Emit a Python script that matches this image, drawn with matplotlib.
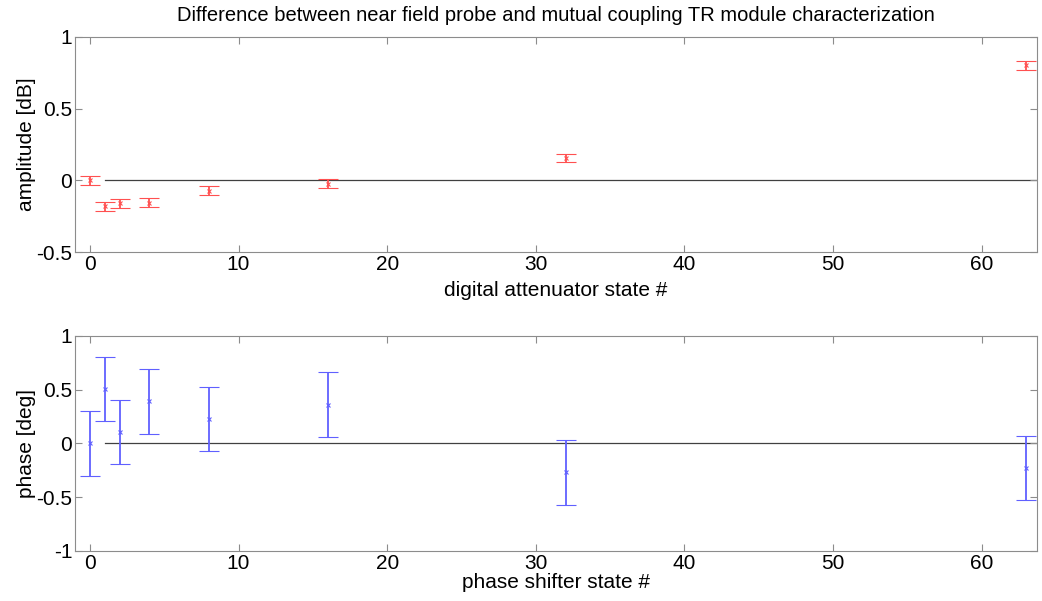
"""Near field probe vs mutual coupling TR module characterization difference."""

import matplotlib
matplotlib.use("Agg")
import matplotlib.pyplot as plt
from matplotlib.ticker import FormatStrFormatter

# attenuator states and amplitude difference [dB]
att_states = [0, 1, 2, 4, 8, 16, 32, 63]
amp_diff = [0.0, -0.18, -0.16, -0.155, -0.07, -0.022, 0.155, 0.80]
amp_err = [0.03, 0.03, 0.03, 0.03, 0.03, 0.03, 0.03, 0.03]

# phase shifter states and phase difference [deg]
ph_states = [0, 1, 2, 4, 8, 16, 32, 63]
ph_diff = [0.0, 0.505, 0.105, 0.39, 0.228, 0.36, -0.27, -0.23]
ph_err = [0.3, 0.3, 0.3, 0.3, 0.3, 0.3, 0.3, 0.3]

plt.rcParams["font.family"] = ["Liberation Sans", "DejaVu Sans"]
plt.rcParams["font.size"] = 15

fig = plt.figure(figsize=(10.42, 6.01), dpi=100)
ax1 = fig.add_axes([0.072, 0.5802, 0.9229, 0.3587])
ax2 = fig.add_axes([0.072, 0.0832, 0.9229, 0.3582])


def style(ax):
    for s in ax.spines.values():
        s.set_color("#8c8c8c")
        s.set_linewidth(0.8)
    ax.tick_params(direction="in", top=True, right=True, length=5,
                   color="#8c8c8c", labelsize=15, pad=2)
    ax.yaxis.set_major_formatter(FormatStrFormatter("%g"))
    ax.set_xlim(-1, 63.7)
    ax.set_xticks([0, 10, 20, 30, 40, 50, 60])
    # zero reference line
    ax.plot([1, 64], [0, 0], color="#404040", lw=0.9, zorder=1)


style(ax1)
ax1.errorbar(att_states, amp_diff, yerr=amp_err, fmt="x", color="#ff5050",
             ms=3, mew=0.8, elinewidth=1.3, capsize=7, capthick=1.3, zorder=3)
ax1.set_ylim(-0.5, 1)
ax1.set_yticks([-0.5, 0, 0.5, 1])
ax1.set_xlabel("digital attenuator state #", labelpad=5)
ax1.set_ylabel("amplitude [dB]", labelpad=0)
ax1.set_title("Difference between near field probe and mutual coupling TR module characterization",
              fontsize=14.5, pad=11)

style(ax2)
ax2.errorbar(ph_states, ph_diff, yerr=ph_err, fmt="x", color="#6060ff",
             ms=3, mew=0.8, elinewidth=1.3, capsize=7, capthick=1.3, zorder=3)
ax2.set_ylim(-1, 1)
ax2.set_yticks([-1, -0.5, 0, 0.5, 1])
ax2.set_xlabel("phase shifter state #", labelpad=0)
ax2.set_ylabel("phase [deg]", labelpad=0)

fig.savefig("out.png", dpi=100)
